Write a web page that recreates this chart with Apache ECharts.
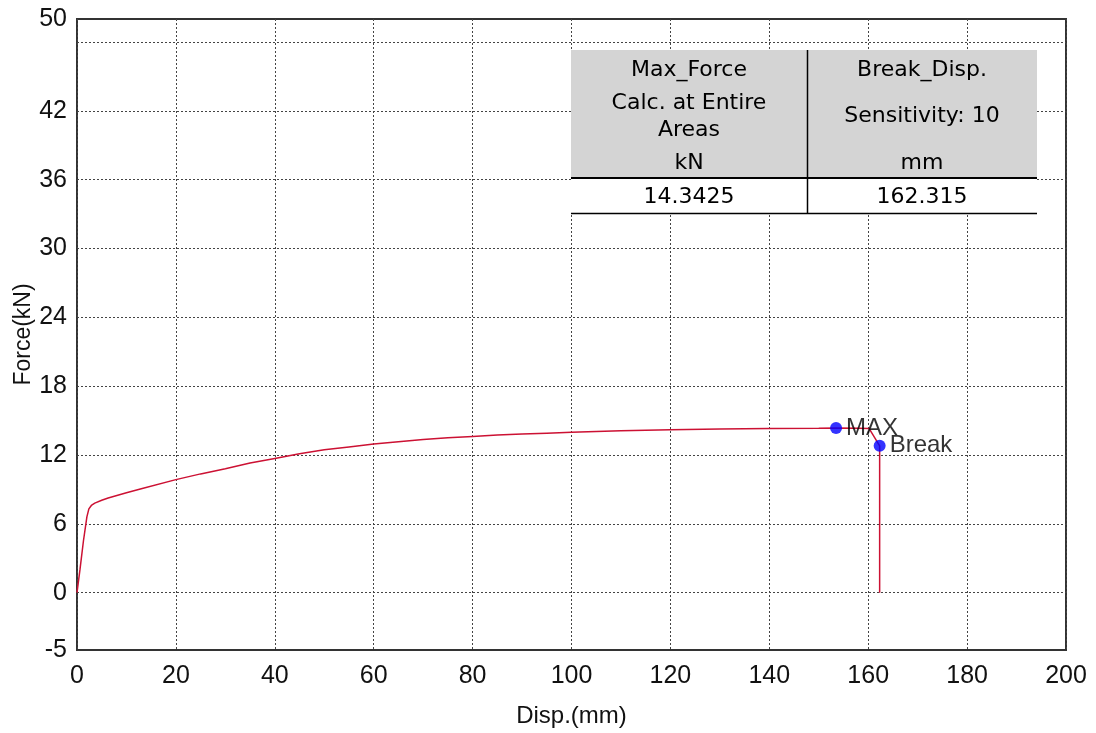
<!DOCTYPE html>
<html>
<head>
<meta charset="utf-8">
<script src="https://cdn.jsdelivr.net/npm/echarts@6/dist/echarts.min.js"></script>
<style>
html,body{margin:0;padding:0;background:#fff;}
#chart{width:1096px;height:733px;}
</style>
</head>
<body>
<div id="chart"></div>
<script>
// ---- data ----
const curveDisp = [0,0.6,1.3,2,2.4,2.9,3.6,5,6.3,10,13,20,25,30,35,40,45,50,55,60,65,70,75,80,85,90,95,100,110,120,130,140,150,153.5,158,160.2,162.315,162.315];
const curveForce = [0,2,4.5,6.6,7.3,7.6,7.8,8.05,8.25,8.7,9.05,9.85,10.35,10.8,11.3,11.7,12.1,12.45,12.7,12.95,13.15,13.35,13.5,13.62,13.74,13.83,13.9,13.97,14.1,14.2,14.27,14.31,14.33,14.3425,14.33,14.3,12.8,0];
const pointNames = ['MAX','Break'];
const pointDisp = [153.5,162.315];
const pointForce = [14.3425,12.8];
const yTickLabels = [50,42,36,30,24,18,12,6,0,-5];
const yGridValues = [48,42,36,30,24,18,12,6,0];
const tableHeaders = [['Max_Force','Calc. at Entire','Areas','kN'],['Break_Disp.','Sensitivity: 10','mm']];
const tableValues = ['14.3425','162.315'];

const chart = echarts.init(document.getElementById('chart'));
const FONT = '"Liberation Sans", Arial, sans-serif';
const gridLineStyle = {type:[2,2], color:'#444', width:1};

// table graphic
const tL = 571, tM = 807, tR = 1037, tTop = 50, tHB = 178, tBot = 213;
const tf = '22px "DejaVu Sans", sans-serif';
function txt(x,y,s){return {type:'text',x:x,y:y,style:{text:s,font:tf,fill:'#000',align:'center',verticalAlign:'middle'},z:20};}
const graphics = [
  {type:'rect',shape:{x:tL,y:tTop,width:tR-tL,height:tHB-tTop},style:{fill:'#d4d4d4'},z:10},
  {type:'rect',shape:{x:tL,y:tHB,width:tR-tL,height:tBot-tHB},style:{fill:'#fff'},z:10},
  {type:'line',shape:{x1:tL,y1:tHB,x2:tR,y2:tHB},style:{stroke:'#000',lineWidth:2},z:15},
  {type:'line',shape:{x1:tL,y1:tBot+0.5,x2:tR,y2:tBot+0.5},style:{stroke:'#000',lineWidth:1.5},z:15},
  {type:'line',shape:{x1:tM+0.5,y1:tTop,x2:tM+0.5,y2:tBot},style:{stroke:'#000',lineWidth:1.5},z:15},
  txt((tL+tM)/2,70,tableHeaders[0][0]),
  txt((tL+tM)/2,103,tableHeaders[0][1]),
  txt((tL+tM)/2,130,tableHeaders[0][2]),
  txt((tL+tM)/2,163,tableHeaders[0][3]),
  txt((tM+tR)/2,70,tableHeaders[1][0]),
  txt((tM+tR)/2,116,tableHeaders[1][1]),
  txt((tM+tR)/2,163,tableHeaders[1][2]),
  txt((tL+tM)/2,197,tableValues[0]),
  txt((tM+tR)/2,197,tableValues[1])
];

chart.setOption({
  animation:false,
  backgroundColor:'#fff',
  grid:{left:77,right:30,top:19,bottom:83,show:true,borderColor:'#333',borderWidth:2,backgroundColor:'transparent',containLabel:false,outerBoundsMode:'none'},
  xAxis:{
    type:'value',min:0,max:200,interval:20,
    name:'Disp.(mm)',nameLocation:'middle',nameGap:54,nameMoveOverlap:false,
    nameTextStyle:{fontFamily:FONT,fontSize:24,color:'#111'},
    axisLine:{show:false},axisTick:{show:false},
    axisLabel:{fontFamily:FONT,fontSize:25,color:'#111',margin:14},
    splitLine:{show:true,lineStyle:gridLineStyle}
  },
  yAxis:{
    type:'value',min:-5,max:50,interval:1,
    name:'Force(kN)',nameLocation:'middle',nameGap:42,nameMoveOverlap:false,
    nameTextStyle:{fontFamily:FONT,fontSize:23,color:'#111'},
    axisLine:{show:false},axisTick:{show:false},
    axisLabel:{fontFamily:FONT,fontSize:25,color:'#111',margin:10,
      formatter:function(v){return yTickLabels.indexOf(v)>=0?String(v):'';}},
    splitLine:{show:false}
  },
  series:[
    {
      type:'line',
      data:curveDisp.map((d,i)=>[d,curveForce[i]]),
      showSymbol:false,
      lineStyle:{color:'#cc1133',width:1.5},
      z:5,
      markLine:{
        silent:true,symbol:'none',animation:false,
        label:{show:false},
        lineStyle:gridLineStyle,
        data:yGridValues.map(v=>({yAxis:v}))
      }
    },
    {
      type:'scatter',
      data:pointDisp.map((d,i)=>({value:[d,pointForce[i]],name:pointNames[i]})),
      symbolSize:12,
      itemStyle:{color:'#0000ff'},
      z:8,
      label:{show:true,position:'right',distance:4,formatter:'{b}',fontFamily:FONT,fontSize:24,color:'#000',textBorderWidth:0}
    }
  ],
  graphic:graphics
});
</script>
</body>
</html>
